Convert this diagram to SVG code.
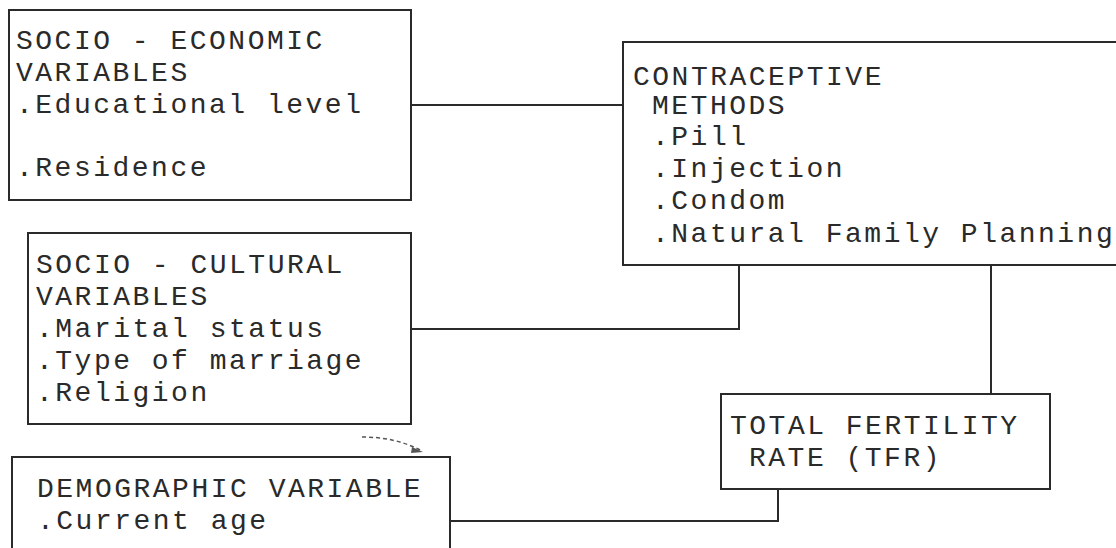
<svg xmlns="http://www.w3.org/2000/svg" width="1116" height="548" viewBox="0 0 1116 548">
<style>
.box{fill:#fff;stroke:#2a2a2a;stroke-width:2}
.ln{fill:none;stroke:#2a2a2a;stroke-width:2}
text{font-family:"Liberation Mono","DejaVu Sans Mono",monospace;font-size:28px;letter-spacing:2.5px;fill:#2a2a2a}
</style>
<rect width="1116" height="548" fill="#fff"/>
<g id="connectors">
<path class="ln" d="M411 105 H623"/>
<path class="ln" d="M411 329 H739 V265"/>
<path class="ln" d="M991 265 V394"/>
<path class="ln" d="M450 521 H778 V489"/>
<path d="M362 437 Q395 437 420 450" fill="none" stroke="#555" stroke-width="1.5" stroke-dasharray="4 3"/>
<path d="M412 447 L423 452 L411 453 Z" fill="#555"/>
</g>
<g id="socio-economic">
<rect class="box" x="9" y="10" width="402" height="190"/>
<text x="16" y="49">SOCIO - ECONOMIC</text>
<text x="16" y="81">VARIABLES</text>
<text x="16" y="113">.Educational level</text>
<text x="16" y="176">.Residence</text>
</g>
<g id="socio-cultural">
<rect class="box" x="28" y="233" width="383" height="191"/>
<text x="36" y="273">SOCIO - CULTURAL</text>
<text x="36" y="305">VARIABLES</text>
<text x="36" y="337">.Marital status</text>
<text x="36" y="369">.Type of marriage</text>
<text x="36" y="401">.Religion</text>
</g>
<g id="demographic">
<rect class="box" x="12" y="457" width="438" height="110"/>
<text x="37" y="497">DEMOGRAPHIC VARIABLE</text>
<text x="37" y="529">.Current age</text>
</g>
<g id="contraceptive">
<rect class="box" x="623" y="42" width="510" height="223"/>
<text x="633" y="85">CONTRACEPTIVE</text>
<text x="652" y="114">METHODS</text>
<text x="652" y="145">.Pill</text>
<text x="652" y="177">.Injection</text>
<text x="652" y="209">.Condom</text>
<text x="652" y="242">.Natural Family Planning</text>
</g>
<g id="tfr">
<rect class="box" x="721" y="394" width="329" height="95"/>
<text x="730" y="434">TOTAL FERTILITY</text>
<text x="749" y="466">RATE (TFR)</text>
</g>
</svg>
